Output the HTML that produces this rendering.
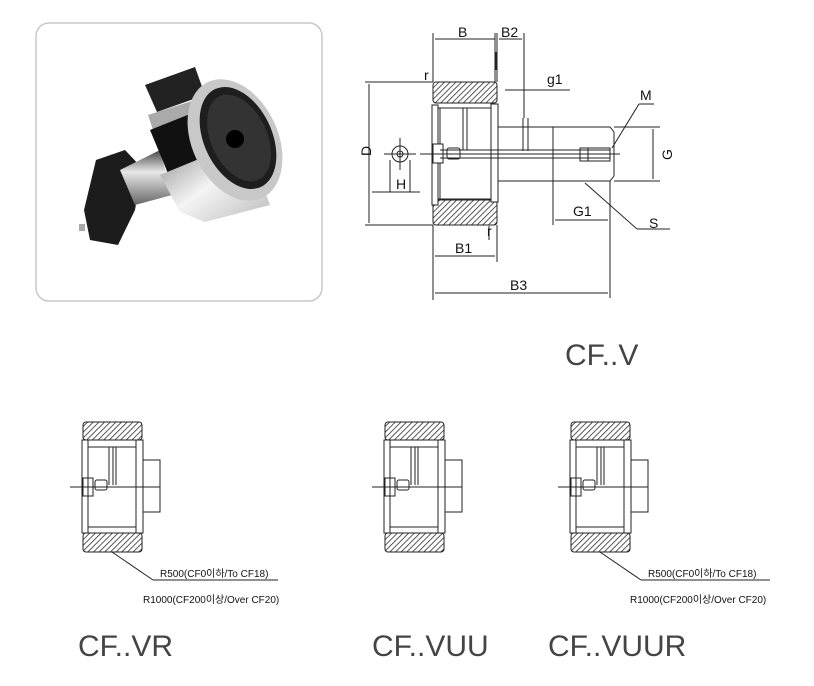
<!DOCTYPE html>
<html><head><meta charset="utf-8"><style>
html,body{margin:0;padding:0;background:#fff;}
svg{display:block;}
text{font-family:"Liberation Sans","Noto Sans CJK KR",sans-serif;fill:#111;}
</style></head><body>
<svg width="814" height="686" viewBox="0 0 814 686" xmlns="http://www.w3.org/2000/svg">
<defs>
<pattern id="h" width="4" height="4" patternUnits="userSpaceOnUse" patternTransform="rotate(45)">
<rect width="4" height="4" fill="#fff"/><line x1="0" y1="0" x2="0" y2="4" stroke="#222" stroke-width="1.5"/></pattern>
<linearGradient id="met" x1="0" y1="0" x2="0" y2="1"><stop offset="0" stop-color="#444"/><stop offset=".4" stop-color="#e8e8e8"/><stop offset="1" stop-color="#666"/></linearGradient>
<linearGradient id="met2" x1="0" y1="0" x2="1" y2="1"><stop offset="0" stop-color="#888"/><stop offset=".5" stop-color="#f4f4f4"/><stop offset="1" stop-color="#bbb"/></linearGradient>
<g id="small" fill="none" stroke="#222" stroke-width="1">
<rect x="83" y="422" width="59" height="18" rx="3" fill="url(#h)"/>
<rect x="83" y="533" width="59" height="19" rx="3" fill="url(#h)"/>
<rect x="82" y="440" width="6" height="93" fill="#fff"/>
<rect x="136" y="440" width="7" height="93" fill="#fff"/>
<line x1="88" y1="447" x2="136" y2="447"/><line x1="88" y1="527" x2="136" y2="527"/>
<line x1="109" y1="447" x2="109" y2="485"/><line x1="113" y1="447" x2="113" y2="485"/>
<line x1="116" y1="447" x2="116" y2="485"/>
<rect x="83" y="478" width="10" height="18"/><rect x="95" y="480" width="12" height="10" rx="2"/>
<path d="M143 460 H160 V512 H143"/>
<line x1="70" y1="487" x2="160" y2="487" stroke-width="1"/>
</g>
</defs>

<!-- photo box -->
<rect x="36" y="23" width="286" height="278" rx="13" fill="#fff" stroke="#c8c8c8" stroke-width="1.5"/>
<g>
<rect x="79" y="224" width="6" height="7" fill="#aaa"/>
<polygon points="84,210 96,160 125,150 142,168 135,210 118,245 90,240" fill="#1c1c1c"/>
<polygon points="120,170 160,150 172,195 135,205" fill="url(#met)"/>
<polygon points="145,85 195,67 205,95 157,112" fill="#222"/>
<polygon points="148,115 195,100 210,160 168,175" fill="#aaa"/>
<polygon points="150,130 200,110 225,175 175,190" fill="#111"/>
<polygon points="160,175 245,140 270,205 205,222 180,212" fill="url(#met2)"/>
<ellipse cx="235" cy="140" rx="43" ry="64" fill="#c8c8c8" transform="rotate(-25 235 140)"/>
<ellipse cx="238" cy="138" rx="34" ry="54" fill="#1e1e1e" transform="rotate(-25 238 138)"/>
<ellipse cx="239" cy="138" rx="28" ry="46" fill="#333" transform="rotate(-25 239 138)"/>
<circle cx="235" cy="139" r="9" fill="#000"/>
</g>

<!-- main drawing -->
<g fill="none" stroke="#222" stroke-width="1">
<rect x="433" y="82" width="64" height="21" rx="3" fill="url(#h)"/>
<rect x="433" y="200" width="64" height="25" rx="3" fill="url(#h)"/>
<rect x="432" y="105" width="6" height="100" fill="#fff"/>
<rect x="491" y="104" width="7" height="98" fill="#fff"/>
<line x1="438" y1="108" x2="491" y2="108"/><line x1="438" y1="199" x2="491" y2="199"/>
<line x1="463" y1="108" x2="463" y2="150"/><line x1="467" y1="108" x2="467" y2="150"/>
<line x1="440" y1="108" x2="440" y2="199"/>
<rect x="433" y="144" width="10" height="19" fill="#fff"/><rect x="447" y="148" width="13" height="11" rx="2"/>
<path d="M498 127 H610 L614 132 V176 L610 181 H498"/>
<line x1="553" y1="127" x2="553" y2="181"/>
<line x1="523" y1="118" x2="523" y2="151"/><line x1="528" y1="118" x2="528" y2="151"/>
<rect x="580" y="148" width="30" height="13"/><line x1="588" y1="148" x2="588" y2="161"/>
<line x1="420" y1="154" x2="620" y2="154"/>
<line x1="440" y1="150" x2="610" y2="150"/><line x1="440" y1="158" x2="610" y2="158"/>
<circle cx="400" cy="154" r="8"/><circle cx="400" cy="154" r="3"/>
<line x1="384" y1="154" x2="416" y2="154"/><line x1="400" y1="138" x2="400" y2="170"/>
<line x1="365" y1="82" x2="433" y2="82"/><line x1="365" y1="225" x2="433" y2="225"/>
<line x1="369" y1="84" x2="369" y2="223"/>
<line x1="433" y1="33" x2="433" y2="82"/><line x1="497" y1="33" x2="497" y2="82"/>
<line x1="495" y1="33" x2="495" y2="82"/><line x1="524" y1="33" x2="524" y2="118"/>
<line x1="435" y1="39" x2="495" y2="39"/><line x1="499" y1="39" x2="522" y2="39"/>
<line x1="505" y1="90" x2="570" y2="90"/>
<line x1="390" y1="160" x2="390" y2="192"/><line x1="410" y1="160" x2="410" y2="192"/>
<line x1="372" y1="192" x2="420" y2="192"/>
<line x1="433" y1="225" x2="433" y2="300"/><line x1="497" y1="225" x2="497" y2="262"/>
<line x1="435" y1="256" x2="495" y2="256"/>
<line x1="610" y1="181" x2="610" y2="298"/><line x1="553" y1="181" x2="553" y2="225"/>
<line x1="555" y1="220" x2="608" y2="220"/>
<line x1="435" y1="293" x2="608" y2="293"/>
<line x1="614" y1="127" x2="660" y2="127"/><line x1="614" y1="181" x2="660" y2="181"/>
<line x1="653" y1="129" x2="653" y2="179"/>
<line x1="612" y1="148" x2="639" y2="104"/><line x1="639" y1="104" x2="654" y2="104"/>
<line x1="585" y1="183" x2="637" y2="229"/><line x1="637" y1="229" x2="670" y2="229"/>
<line x1="496" y1="52" x2="496" y2="70"/><line x1="489" y1="226" x2="489" y2="240"/>
</g>
<text x="458" y="37" font-size="14">B</text>
<text x="501" y="37" font-size="14">B2</text>
<text x="547" y="84" font-size="14">g1</text>
<text x="640" y="100" font-size="14">M</text>
<text x="424" y="80" font-size="14">r</text>
<text x="487" y="236" font-size="14">r</text>
<text x="365" y="162" font-size="14" transform="rotate(-90 365 156)">D</text>
<text x="396" y="189" font-size="14">H</text>
<text x="660" y="160" font-size="14" transform="rotate(-90 666 154)">G</text>
<text x="573" y="216" font-size="14">G1</text>
<text x="649" y="228" font-size="14">S</text>
<text x="455" y="253" font-size="14">B1</text>
<text x="510" y="290" font-size="14">B3</text>
<text x="565" y="365" font-size="30" style="fill:#444">CF..V</text>

<use href="#small"/>
<use href="#small" x="302"/>
<use href="#small" x="488"/>
<g fill="none" stroke="#222"><line x1="112" y1="552" x2="153" y2="580"/><line x1="153" y1="580" x2="278" y2="580"/>
<line x1="600" y1="552" x2="641" y2="580"/><line x1="641" y1="580" x2="770" y2="580"/></g>
<text x="160" y="577" font-size="10">R500(CF0이하/To CF18)</text>
<text x="143" y="603" font-size="10">R1000(CF200이상/Over CF20)</text>
<text x="648" y="577" font-size="10">R500(CF0이하/To CF18)</text>
<text x="630" y="603" font-size="10">R1000(CF200이상/Over CF20)</text>
<text x="78" y="656" font-size="30" style="fill:#444">CF..VR</text>
<text x="372" y="656" font-size="30" style="fill:#444">CF..VUU</text>
<text x="548" y="656" font-size="30" style="fill:#444">CF..VUUR</text>
</svg>
</body></html>
